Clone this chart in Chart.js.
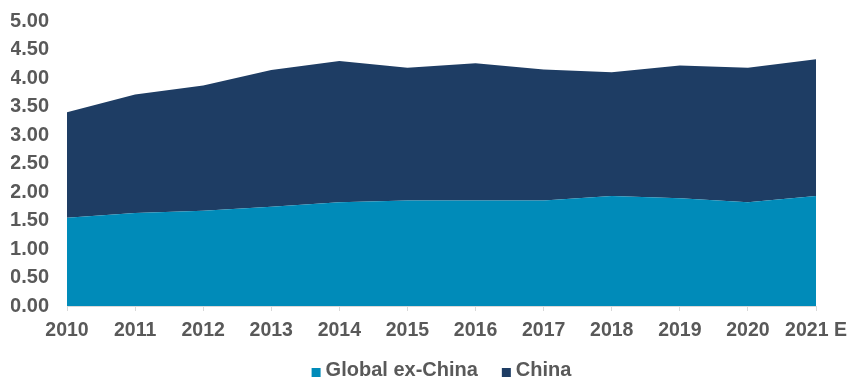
<!DOCTYPE html>
<html>
<head>
<meta charset="utf-8">
<script src="https://cdn.jsdelivr.net/npm/chart.js@4/dist/chart.umd.min.js"></script>
<style>
  html, body { margin: 0; padding: 0; background: #fff; }
  #wrap { width: 850px; height: 381px; }
</style>
</head>
<body>
<div id="wrap"><canvas id="myChart"></canvas></div>
<script>
var years = ['2010', '2011', '2012', '2013', '2014', '2015', '2016', '2017', '2018', '2019', '2020', '2021 E'];
var globalExChina = [1.55, 1.63, 1.67, 1.74, 1.82, 1.85, 1.85, 1.85, 1.93, 1.89, 1.82, 1.93];
var china = [1.85, 2.08, 2.20, 2.40, 2.48, 2.33, 2.41, 2.30, 2.17, 2.33, 2.36, 2.40];

var FONT = '"Liberation Sans", Arial, sans-serif';
var GREY = '#595959';

// legend drawn as one centred row under the x axis
var legendRow = {
  id: 'legendRow',
  afterDraw: function(chart) {
    var ctx = chart.ctx;
    var area = chart.chartArea;
    var box = 9, gapText = 5, gapItem = 24;
    ctx.save();
    ctx.font = 'bold 20px ' + FONT;
    var items = chart.data.datasets.map(function(ds) {
      return { text: ds.label, color: ds.backgroundColor, w: ctx.measureText(ds.label).width };
    });
    var total = gapItem * (items.length - 1);
    items.forEach(function(it) { total += box + gapText + it.w; });
    var x = (area.left + area.right) / 2 - total / 2;
    var y = 370;
    ctx.textBaseline = 'middle';
    ctx.textAlign = 'left';
    items.forEach(function(it) {
      ctx.fillStyle = it.color;
      ctx.fillRect(x, y - 2, box, box);
      x += box + gapText;
      ctx.fillStyle = GREY;
      ctx.fillText(it.text, x, y);
      x += it.w + gapItem;
    });
    ctx.restore();
  }
};

var ctx = document.getElementById('myChart').getContext('2d');
var myChart = new Chart(ctx, {
  type: 'line',
  data: {
    labels: years,
    datasets: [{
      label: 'Global ex-China',
      data: globalExChina,
      fill: 'origin',
      backgroundColor: '#008BB9',
      borderColor: '#008BB9',
      borderWidth: 0,
      pointRadius: 0,
      tension: 0
    },
    {
      label: 'China',
      data: china,
      fill: '-1',
      backgroundColor: '#1E3D64',
      borderColor: '#1E3D64',
      borderWidth: 0,
      pointRadius: 0,
      tension: 0
    }]
  },
  options: {
    responsive: true,
    maintainAspectRatio: false,
    animation: false,
    layout: {
      padding: { top: 21, left: 11, right: 34, bottom: 39 }
    },
    plugins: {
      legend: { display: false },
      tooltip: { enabled: false }
    },
    scales: {
      x: {
        offset: false,
        grid: {
          display: true,
          drawOnChartArea: false,
          drawTicks: true,
          tickLength: 5,
          color: '#D9D9D9'
        },
        border: { display: true, color: '#D9D9D9' },
        ticks: {
          color: GREY,
          padding: 8,
          maxRotation: 0,
          autoSkip: false,
          font: { family: FONT, size: 19.5, weight: 'bold' }
        },
        afterFit: function(scale) {
          scale.height = 36;
          scale.paddingLeft = 0;
          scale.paddingRight = 0;
        }
      },
      y: {
        stacked: true,
        min: 0,
        max: 5,
        grid: { display: false, drawTicks: false },
        border: { display: false },
        ticks: {
          stepSize: 0.5,
          color: GREY,
          padding: 18,
          font: { family: FONT, size: 20, weight: 'bold' },
          callback: function(v) { return v.toFixed(2); }
        },
        afterFit: function(scale) {
          scale.width = 56;
          scale.paddingTop = 0;
          scale.paddingBottom = 0;
        }
      }
    }
  },
  plugins: [legendRow]
});
</script>
</body>
</html>
